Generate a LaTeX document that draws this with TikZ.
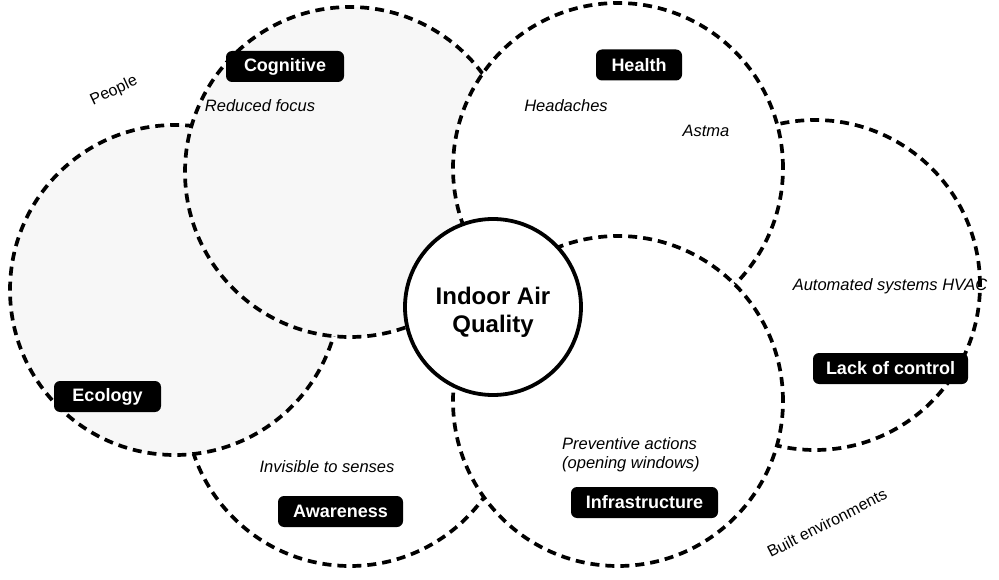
\documentclass[tikz,border=0pt]{standalone}
\usepackage{fontspec}
\setmainfont{Liberation Sans}
\definecolor{zonegray}{HTML}{F7F7F7}
\begin{document}
\begin{tikzpicture}[x=1pt,y=-1pt,
  zone/.style={circle, draw=black, fill=white, line width=3.7pt,
    dash pattern=on 9pt off 6pt, minimum size=330pt, inner sep=0pt},
  shaded/.style={fill=zonegray},
  hub/.style={circle, draw=black, fill=white, line width=3.8pt,
    minimum size=176pt, inner sep=0pt},
  hubtext/.style={align=center, inner sep=0pt,
    font=\fontsize{24}{28}\selectfont\bfseries},
  tag/.style={fill=black, text=white, rounded corners=6pt,
    minimum height=31pt, inner xsep=0pt, inner ysep=0pt,
    font=\fontsize{18}{20}\selectfont\bfseries},
  note/.style={inner sep=0pt, font=\fontsize{16.5}{19}\selectfont\itshape},
  plain/.style={inner sep=0pt, font=\fontsize{16}{19}\selectfont}]
\useasboundingbox (0,0) rectangle (999,580);

% overlapping theme zones, back to front
\node[zone] (awareness) at (350,401) {};
\node[zone, shaded] (ecology) at (175,290) {};
\node[zone, shaded] (cognitive) at (350,172) {};
\node[zone] (control) at (815,285) {};
\node[zone] (health) at (618,168) {};
\node[zone] (infra) at (618,401) {};

% central topic
\node[hub] (iaq) at (493,307) {};
\node[hubtext] (iaqlabel) at (493,312) {Indoor Air\\Quality};

% zone titles
\node[tag, minimum width=118pt] (tcog) at (285,66.5) {Cognitive};
\node[tag, minimum width=86pt] (thealth) at (639,65) {Health};
\node[tag, minimum width=107pt] (teco) at (107.5,396.5) {Ecology};
\node[tag, minimum width=125pt] (taware) at (340.5,511.5) {Awareness};
\node[tag, minimum width=155pt] (tcontrol) at (890.5,368.5) {Lack of control};
\node[tag, minimum width=147pt] (tinfra) at (644.5,502.5) {Infrastructure};

% remarks inside the zones
\node[note] (focus) at (260,106) {Reduced focus};
\node[note] (headaches) at (566,106) {Headaches};
\node[note] (astma) at (706,131) {Astma};
\node[note] (hvac) at (890,286) {Automated systems HVAC};
\node[note] (senses) at (327,467) {Invisible to senses};
\node[note, align=left, anchor=west] (windows) at (562,455)
  {Preventive actions\\(opening windows)};

% group captions
\node[plain, rotate=25] (people) at (114,91) {People};
\node[plain, rotate=27] (built) at (827,523) {Built environments};
\end{tikzpicture}
\end{document}
